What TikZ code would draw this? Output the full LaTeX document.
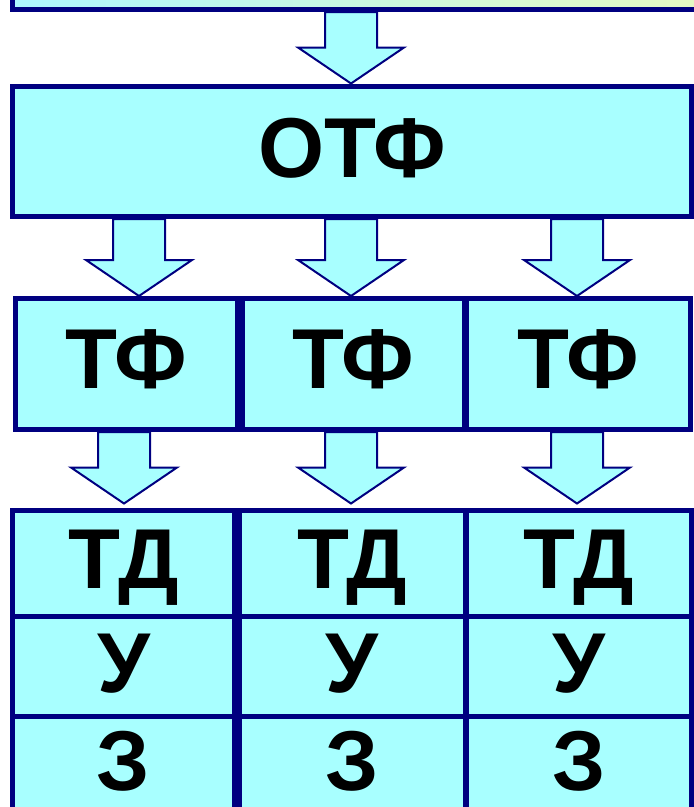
\documentclass[tikz,border=0pt]{standalone}
\usepackage{fontspec}
\setmainfont{Liberation Sans}
\usetikzlibrary{calc}
\definecolor{navyb}{HTML}{000080}
\definecolor{aqua}{HTML}{A8FFFF}
\definecolor{srcL}{HTML}{AEF6FF}
\definecolor{srcM}{HTML}{B4F6F6}
\definecolor{srcR}{HTML}{EAFABE}
\tikzset{
  box/.style={draw=navyb, fill=aqua, line width=5pt, inner sep=0pt,
    font=\bfseries\fontsize{85pt}{85pt}\selectfont, text height=61pt},
  barrow/.style={draw=navyb, fill=aqua, line width=2pt, line join=miter},
}
\newcommand\blockarrow[2]{%
  \draw[barrow] let \p1=#1, \p2=#2 in
    (\x2-26pt,\y1) -- (\x2+26pt,\y1) -- (\x2+26pt,\y2+36pt) -- (\x2+53pt,\y2+36pt)
    -- (\x2,\y2) -- (\x2-53pt,\y2+36pt) -- (\x2-26pt,\y2+36pt) -- cycle;}
\begin{document}
\begin{tikzpicture}[x=1pt, y=-1pt]
  \useasboundingbox (0,0) rectangle (694,807);
  \fill[white] (0,0) rectangle (694,807);
  \clip (0,0) rectangle (694,807);
  % top box (partly visible)
  \node[box, left color=srcL, middle color=srcM, right color=srcR,
        minimum width=747.5pt, minimum height=69.5pt] (src) at (386.25,-25.25) {};
  % OTF
  \node[box, minimum width=679pt, minimum height=130.5pt, text depth=8.5pt]
        (otf) at (352,151.25) {ОТФ};
  % TF row
  \node[box, minimum width=222pt, minimum height=131pt, text depth=13pt]
        (tf1) at (126.5,364) {ТФ};
  \node[box, minimum width=222pt, minimum height=131pt, text depth=13pt]
        (tf2) at (353.5,364) {ТФ};
  \node[box, minimum width=224.5pt, minimum height=131pt, text depth=13pt]
        (tf3) at (578.25,364) {ТФ};
  % table
  \node[box, minimum width=222pt, minimum height=106pt, text depth=11pt]
        (td1) at (123.5,563) {ТД};
  \node[box, minimum width=225.5pt, minimum height=106pt, text depth=11pt]
        (td2) at (352.25,563) {ТД};
  \node[box, minimum width=225.5pt, minimum height=106pt, text depth=11pt]
        (td3) at (578.75,563) {ТД};
  \node[box, minimum width=222pt, minimum height=100pt, text depth=9pt]
        (u1) at (123.5,666) {У};
  \node[box, minimum width=225.5pt, minimum height=100pt, text depth=9pt]
        (u2) at (352.25,666) {У};
  \node[box, minimum width=225.5pt, minimum height=100pt, text depth=9pt]
        (u3) at (578.75,666) {У};
  \node[box, minimum width=222pt, minimum height=146pt, text depth=59pt]
        (z1) at (123.5,789) {З};
  \node[box, minimum width=225.5pt, minimum height=146pt, text depth=59pt]
        (z2) at (352.25,789) {З};
  \node[box, minimum width=225.5pt, minimum height=146pt, text depth=59pt]
        (z3) at (578.75,789) {З};
  % arrows
  \blockarrow{(src.south)}{([xshift=-1pt]otf.north)}
  \blockarrow{(otf.south)}{([xshift=12.5pt]tf1.north)}
  \blockarrow{(otf.south)}{([xshift=-2.5pt]tf2.north)}
  \blockarrow{(otf.south)}{([xshift=-1.25pt]tf3.north)}
  \blockarrow{(tf1.south)}{([xshift=0.5pt,yshift=4pt]td1.north)}
  \blockarrow{(tf2.south)}{([xshift=-1.25pt,yshift=4pt]td2.north)}
  \blockarrow{(tf3.south)}{([xshift=-1.75pt,yshift=4pt]td3.north)}
\end{tikzpicture}
\end{document}
